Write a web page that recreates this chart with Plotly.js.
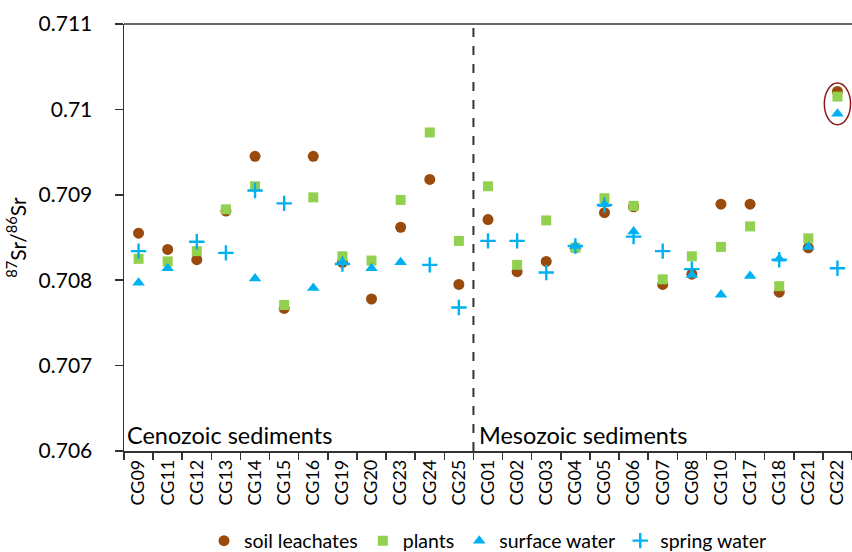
<!DOCTYPE html>
<html>
<head>
<meta charset="utf-8">
<script src="https://cdn.plot.ly/plotly-3.0.1.min.js"></script>
<style>html,body{margin:0;padding:0;background:#fff;}#chart{width:852px;height:552px;}</style>
</head>
<body>
<div id="chart"></div>
<script>
var categories = ["CG09","CG11","CG12","CG13","CG14","CG15","CG16","CG19","CG20","CG23","CG24","CG25",
                  "CG01","CG02","CG03","CG04","CG05","CG06","CG07","CG08","CG10","CG17","CG18","CG21","CG22"];
var soilLeachates = [0.70855,0.70836,0.70824,0.70881,0.70945,0.70767,0.70945,0.70821,0.70778,0.70862,0.70918,0.70795,
                     0.70871,0.70810,0.70822,0.70838,0.70879,0.70886,0.70795,0.70807,0.70889,0.70889,0.70786,0.70838,0.71021];
var plants = [0.70825,0.70822,0.70834,0.70883,0.70910,0.70771,0.70897,0.70828,0.70823,0.70894,0.70973,0.70846,
              0.70910,0.70818,0.70870,0.70838,0.70896,0.70887,0.70801,0.70828,0.70839,0.70863,0.70793,0.70849,0.71015];
var surfaceWater = [0.70797,0.70814,null,null,0.70802,null,0.70791,0.70821,0.70814,0.70821,null,null,
                    null,null,null,0.70840,0.70889,0.70857,null,0.70806,0.70783,0.70805,0.70825,0.70839,0.70995];
var springWater = [0.70834,null,0.70845,0.70832,0.70905,0.70890,null,0.70819,null,null,0.70818,0.70768,
                   0.70846,0.70846,0.70809,0.70840,0.70888,0.70851,0.70834,0.70813,null,null,0.70824,null,0.70814];
var seriesNames = ["soil leachates","plants","surface water","spring water"];
var yTicks = [0.706,0.707,0.708,0.709,0.71,0.711];
var yTickText = ["0.706","0.707","0.708","0.709","0.71","0.711"];
var groupLabels = ["Cenozoic sediments","Mesozoic sediments"];

var brown = "#9A4A0C", green = "#92D050", blue = "#00B0F0";
var FONT = "Lato, 'Open Sans', sans-serif";

var traces = [
  {x: categories, y: soilLeachates, name: seriesNames[0], type: "scatter", mode: "markers",
   marker: {symbol: "circle", size: 11, color: brown}},
  {x: categories, y: plants, name: seriesNames[1], type: "scatter", mode: "markers",
   marker: {symbol: "square", size: 10, color: green}},
  {x: categories, y: surfaceWater, name: seriesNames[2], type: "scatter", mode: "markers",
   marker: {symbol: "triangle-up", size: 11, color: blue}},
  {x: categories, y: springWater, name: seriesNames[3], type: "scatter", mode: "markers",
   marker: {symbol: "cross-thin", size: 11, color: blue, line: {color: blue, width: 2.4}}}
];

var last = categories.length - 1;
var splitX = categories.indexOf("CG01") - 0.5;
var cg22Vals = [soilLeachates[last], plants[last], surfaceWater[last]];

var layout = {
  width: 852, height: 552,
  margin: {l: 124, r: 0, t: 24, b: 101},
  paper_bgcolor: "#fff", plot_bgcolor: "#fff",
  font: {family: FONT, color: "#000"},
  showlegend: true,
  legend: {orientation: "h", xref: "paper", x: 0.5, xanchor: "center",
           yref: "container", y: 0.02, yanchor: "middle",
           font: {size: 19.5, family: FONT}, itemwidth: 30, tracegroupgap: 0},
  xaxis: {
    type: "category", categoryorder: "array", categoryarray: categories,
    range: [-0.5, last + 0.5], tickson: "boundaries", ticks: "outside", ticklen: 7,
    tickcolor: "#333", tickwidth: 1.5, automargin: false,
    showline: true, linecolor: "#333", linewidth: 1.5, showgrid: false, zeroline: false,
    tickangle: -90, tickfont: {size: 18, family: FONT}
  },
  yaxis: {
    range: [0.706, 0.711], tickvals: yTicks, ticktext: yTickText,
    ticks: "outside", ticklen: 8, tickcolor: "#333", tickwidth: 1.5, automargin: false,
    showline: true, linecolor: "#333", linewidth: 1.5, showgrid: false, zeroline: false,
    tickfont: {size: 21, family: FONT}, ticklabelstandoff: 18,
    title: {text: "<sup>87</sup>Sr/<sup>86</sup>Sr", font: {size: 21, family: FONT}, standoff: 6}
  },
  shapes: [
    {type: "line", xref: "x", yref: "paper", x0: splitX, x1: splitX, y0: 0, y1: 1,
     line: {color: "#333", width: 2, dash: "dash"}},
    {type: "line", xref: "paper", yref: "paper", x0: 0, x1: 1, y0: 1, y1: 1,
     line: {color: "#333", width: 1.5}},
    {type: "circle", xref: "x", yref: "y", x0: last - 0.45, x1: last + 0.45,
     y0: Math.min.apply(null, cg22Vals) - 0.00013, y1: Math.max.apply(null, cg22Vals) + 0.0001,
     line: {color: "#8B1A1A", width: 1.5}}
  ],
  annotations: [
    {xref: "x", yref: "paper", x: -0.5, y: 0, xanchor: "left", yanchor: "bottom", xshift: 1, yshift: 0,
     text: groupLabels[0], showarrow: false, font: {size: 23.5, family: FONT}},
    {xref: "x", yref: "paper", x: splitX, y: 0, xanchor: "left", yanchor: "bottom", xshift: 4, yshift: 0,
     text: groupLabels[1], showarrow: false, font: {size: 23.5, family: FONT}}
  ]
};

Plotly.newPlot("chart", traces, layout, {displayModeBar: false, staticPlot: true});
</script>
</body>
</html>
